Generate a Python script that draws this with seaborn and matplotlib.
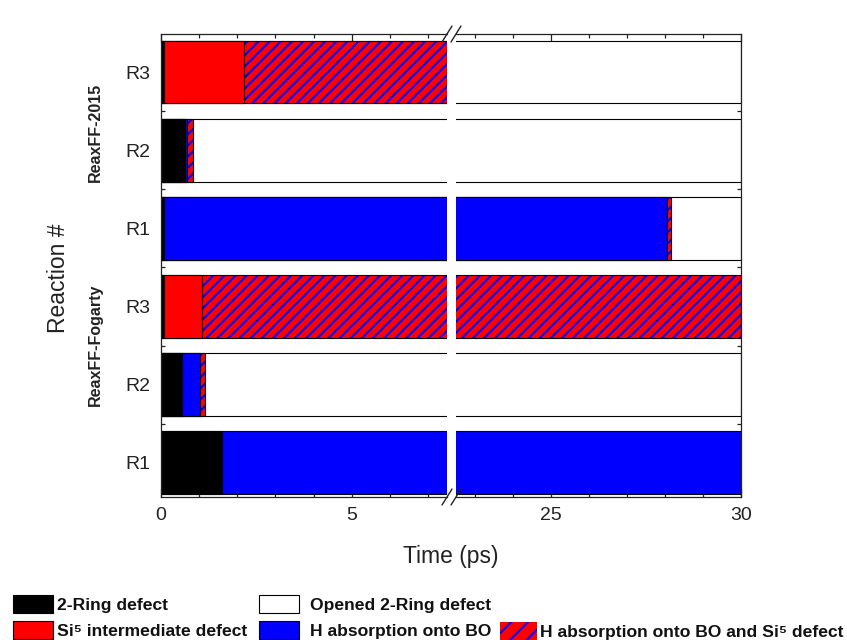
import matplotlib
matplotlib.use("Agg")
import matplotlib.pyplot as plt
from matplotlib.patches import Patch
from matplotlib.ticker import FixedLocator
import pandas as pd
import seaborn as sns

# Reaction rows, listed from top to bottom
rows = ["ReaxFF-2015 R3", "ReaxFF-2015 R2", "ReaxFF-2015 R1",
        "ReaxFF-Fogarty R3", "ReaxFF-Fogarty R2", "ReaxFF-Fogarty R1"]
row_labels = ["R3", "R2", "R1", "R3", "R2", "R1"]
force_fields = ["ReaxFF-2015", "ReaxFF-Fogarty"]

# Defect states and their fill colours
RING = "2-Ring defect"
OPENED = "Opened 2-Ring defect"
SI5 = "Si\u2075 intermediate defect"
H_BO = "H absorption onto BO"
H_BO_SI5 = "H absorption onto BO and Si\u2075 defect"
states = [RING, OPENED, SI5, H_BO, H_BO_SI5]
state_colors = ["#000000", "#ffffff", "#ff0000", "#0000ff", "#ff0000"]
hatch_color = "#0000ff"

# Sequence of states of every reaction and the time (ps) at which each ends
r3_2015_states = [RING, SI5, H_BO_SI5, OPENED]
r3_2015_ends = [0.08, 2.18, 7.5, 30.0]
r2_2015_states = [RING, H_BO, H_BO_SI5, OPENED]
r2_2015_ends = [0.63, 0.69, 0.85, 30.0]
r1_2015_states = [RING, H_BO, H_BO_SI5, OPENED]
r1_2015_ends = [0.08, 28.04, 28.15, 30.0]
r3_fog_states = [RING, SI5, H_BO_SI5]
r3_fog_ends = [0.08, 1.07, 30.0]
r2_fog_states = [RING, H_BO, H_BO_SI5, OPENED]
r2_fog_ends = [0.56, 1.03, 1.16, 30.0]
r1_fog_states = [RING, H_BO]
r1_fog_ends = [1.6, 30.0]

# Visible time windows on either side of the axis break
left_window = (0.0, 7.5)
right_window = (22.5, 30.0)
left_major, left_minor = [0, 5], [1, 2, 3, 4, 6, 7]
right_major, right_minor = [25, 30], [23, 24, 26, 27, 28, 29]

sequences = [r3_2015_states, r2_2015_states, r1_2015_states,
             r3_fog_states, r2_fog_states, r1_fog_states]
end_times = [r3_2015_ends, r2_2015_ends, r1_2015_ends,
             r3_fog_ends, r2_fog_ends, r1_fog_ends]

# Each segment is drawn as a bar from t=0 to its end time; later segments
# go underneath earlier ones, so the layer counts back from the last state.
records = []
for row, seq, ends in zip(rows, sequences, end_times):
    n = len(ends)
    for i, (state, end) in enumerate(zip(seq, ends)):
        records.append({"row": row, "state": state, "end": end, "layer": n - 1 - i})
segments = pd.DataFrame(records)

sns.set_theme(style="ticks")
plt.rcParams["font.family"] = ["Liberation Sans", "DejaVu Sans"]
plt.rcParams["hatch.linewidth"] = 1.5
plt.rcParams["axes.linewidth"] = 0.9

fig = plt.figure(figsize=(8.47, 6.40), dpi=100)
W, H = 847, 640
bottom_px, top_px = 497, 34
ax_left = fig.add_axes([161 / W, 1 - bottom_px / H, (447 - 161) / W, (bottom_px - top_px) / H])
ax_right = fig.add_axes([456 / W, 1 - bottom_px / H, (741 - 456) / W, (bottom_px - top_px) / H])
axes = [ax_left, ax_right]

bar_lw = 0.8
for ax in axes:
    for layer in sorted(segments["layer"].unique()):
        for state, colr in zip(states, state_colors):
            sub = segments[(segments["layer"] == layer) & (segments["state"] == state)]
            if sub.empty:
                continue
            common = dict(data=sub, x="end", y="row", order=rows, orient="y",
                          errorbar=None, width=0.8, ax=ax)
            if state == H_BO_SI5:
                sns.barplot(**common, color=colr, saturation=1,
                            edgecolor=hatch_color, linewidth=0, hatch="///")
                sns.barplot(**common, facecolor="none", edgecolor="black",
                            linewidth=bar_lw)
            else:
                sns.barplot(**common, color=colr, saturation=1,
                            edgecolor="black", linewidth=bar_lw)

ax_left.set_xlim(*left_window)
ax_right.set_xlim(*right_window)
ax_left.set_xticks(left_major)
ax_left.xaxis.set_minor_locator(FixedLocator(left_minor))
ax_right.set_xticks(right_major)
ax_right.xaxis.set_minor_locator(FixedLocator(right_minor))

positions = list(range(len(rows)))
for ax in axes:
    ax.set_ylim(5.44, -0.49)
    ax.set_xlabel("")
    ax.set_ylabel("")
    ax.set_yticks(positions)
    ax.yaxis.set_minor_locator(FixedLocator([p + 0.5 for p in positions[:-1]]))
    ax.tick_params(axis="both", which="both", direction="in", width=0.9,
                   top=True, bottom=True, labelsize=14, colors="#222222")
    ax.tick_params(axis="both", which="major", length=6)
    ax.tick_params(axis="both", which="minor", length=2.6)
    ax.tick_params(axis="x", pad=7)
    ax.tick_params(axis="y", pad=8)
    for sp in ax.spines.values():
        sp.set_color("#222222")

ax_left.set_yticklabels(row_labels)
ax_left.tick_params(axis="y", which="both", left=True, right=False)
ax_left.spines["right"].set_visible(False)
ax_right.tick_params(axis="y", which="both", left=False, right=True,
                     labelleft=False, labelright=False)
ax_right.spines["left"].set_visible(False)

# Break marks on the top and bottom spines
dx_l, dy = 5 / (447 - 161), 8 / (bottom_px - top_px)
dx_r = 5 / (741 - 456)
for ax, x0, dx in [(ax_left, 1.0, dx_l), (ax_right, 0.0, dx_r)]:
    for y0 in (0.0, 1.0):
        ax.plot([x0 - dx, x0 + dx], [y0 - dy, y0 + dy], transform=ax.transAxes,
                color="#222222", lw=1.0, clip_on=False)

# Axis titles
left_w = 447 - 161
ax_left.set_ylabel("Reaction #", fontsize=16.5, color="#222222", va="center")
ax_left.yaxis.set_label_coords((59 - 161) / left_w, (bottom_px - 278) / (bottom_px - top_px))
fig.text(451 / W, 1 - 557 / H, "Time (ps)", fontsize=16.5, color="#222222",
         ha="center", va="center")

# Force-field group labels
group_label_y_px = [132, 345]
for name, y_px in zip(force_fields, group_label_y_px):
    ax_left.text((95 - 161) / left_w, (bottom_px - y_px) / (bottom_px - top_px), name,
                 transform=ax_left.transAxes, rotation=90,
                 ha="center", va="center", fontsize=11.5, fontweight="bold",
                 color="#222222")

# Legend, laid out in three columns under the plot
def patch_for(state):
    colr = state_colors[states.index(state)]
    if state == H_BO_SI5:
        return Patch(facecolor=colr, edgecolor=hatch_color, hatch="//", linewidth=0)
    return Patch(facecolor=colr, edgecolor="black", linewidth=0.8)

legend_kw = dict(frameon=False, handleheight=1.21, labelspacing=0.45,
                 borderpad=0, borderaxespad=0, loc="upper left",
                 prop={"weight": "bold", "size": 12.6})
columns = [([RING, SI5], 12.7, 595, 2.3, 0.23),
           ([OPENED, H_BO], 259, 595, 2.3, 0.63),
           ([H_BO_SI5], 500, 622, 2.1, 0.17)]
for col_states, x_px, y_px, hlen, tpad in columns:
    leg = fig.legend([patch_for(s) for s in col_states], col_states,
                     bbox_to_anchor=(x_px / W, 1 - y_px / H),
                     handlelength=hlen, handletextpad=tpad, **legend_kw)
    for t in leg.get_texts():
        t.set_color("#111111")

fig.savefig("out.png", dpi=100)
